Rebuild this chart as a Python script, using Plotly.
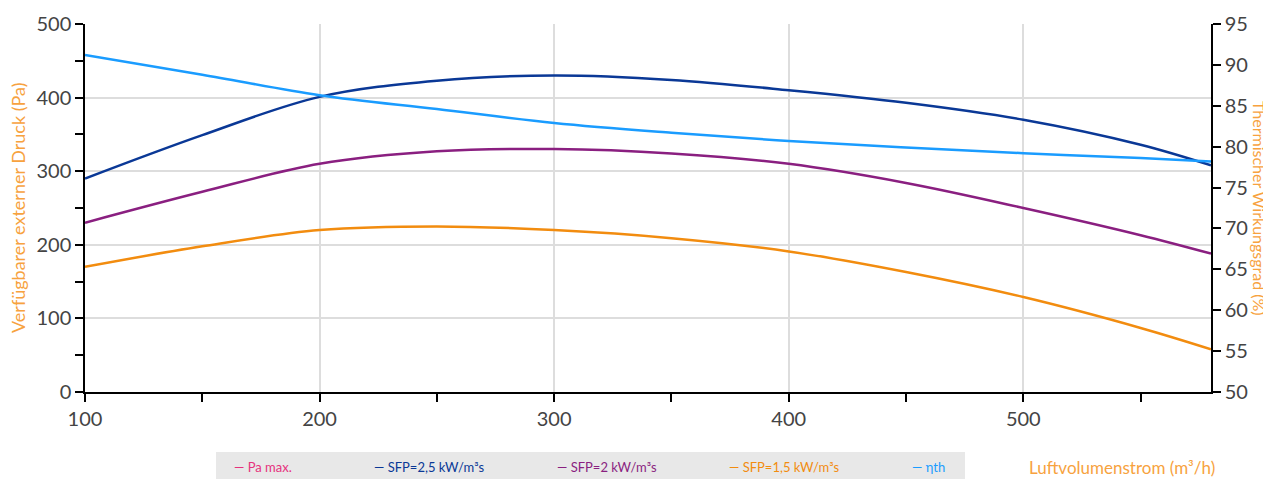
import plotly.graph_objects as go

# Data
airflow = [100, 150, 200, 250, 300, 350, 400, 450, 500, 550, 580]
sfp_25 = [290, 349, 401, 423, 430, 424, 410, 393, 370, 336, 308]
sfp_2 = [230, 272, 310, 327, 330, 324, 310, 284, 250, 213, 188]
sfp_15 = [170, 198, 220, 225, 220, 209, 191, 163, 129, 87, 58]
eta_th = [91.2, 88.8, 86.3, 84.6, 82.9, 81.7, 80.7, 79.9, 79.2, 78.6, 78.2]
pa_max = []

legend_names = ["Pa max.", "SFP=2,5 kW/m³s", "SFP=2 kW/m³s", "SFP=1,5 kW/m³s", "ηth"]
colors = ["#e6317d", "#0a3896", "#8a1f80", "#f28c0f", "#1a9cff"]
legend_x = [232, 372, 555, 727, 910]

FONT = "Lato"
ORANGE_TXT = "#f7a23e"

fig = go.Figure()
fig.add_trace(go.Scatter(x=airflow[:len(pa_max)], y=pa_max, mode="lines",
                         line=dict(color=colors[0], width=2.5, shape="spline"),
                         name=legend_names[0], showlegend=False))
fig.add_trace(go.Scatter(x=airflow, y=sfp_25, mode="lines",
                         line=dict(color=colors[1], width=2.5, shape="spline"),
                         name=legend_names[1], showlegend=False))
fig.add_trace(go.Scatter(x=airflow, y=sfp_2, mode="lines",
                         line=dict(color=colors[2], width=2.5, shape="spline"),
                         name=legend_names[2], showlegend=False))
fig.add_trace(go.Scatter(x=airflow, y=sfp_15, mode="lines",
                         line=dict(color=colors[3], width=2.5, shape="spline"),
                         name=legend_names[3], showlegend=False))
fig.add_trace(go.Scatter(x=airflow, y=eta_th, mode="lines", yaxis="y2",
                         line=dict(color=colors[4], width=2.5, shape="spline"),
                         name=legend_names[4], showlegend=False))

# page coordinates (the page body has an 8px offset)
OFF = 8
PAGE_W, PAGE_H = 1271, 479
W, H = PAGE_W - OFF, PAGE_H - OFF
PL, PR, PT, PB = 85, 1211, 24, 392  # plot area in page pixels
L, T = PL - OFF, PT - OFF
R = W - (PR - OFF)
B = H - (PB - OFF)
pw, ph = PR - PL, PB - PT

def px_x(p):
    return (p - PL) / pw

def px_y(p):
    return (PB - p) / ph

tickfont = dict(family=FONT, size=20, color="#444444")

fig.update_layout(
    width=W, height=H,
    margin=dict(l=L, r=R, t=T, b=B, autoexpand=False),
    paper_bgcolor="white", plot_bgcolor="white",
    font=dict(family=FONT),
    showlegend=False,
    xaxis=dict(range=[100, 580], tick0=100, dtick=100, showgrid=True,
               gridcolor="#dddddd", gridwidth=1.5,
               showline=True, linecolor="black", linewidth=1.5,
               ticks="outside", ticklen=8, tickcolor="black", tickwidth=1.5,
               minor=dict(dtick=50, tick0=100, ticks="outside", ticklen=8,
                          tickcolor="black", tickwidth=1.5, showgrid=False),
               tickfont=tickfont, zeroline=False),
    yaxis=dict(range=[0, 500], dtick=100, showgrid=True,
               gridcolor="#dddddd", gridwidth=1.5,
               showline=True, linecolor="black", linewidth=1.5,
               ticks="outside", ticklen=8, tickcolor="black", tickwidth=1.5,
               minor=dict(dtick=50, ticks="outside", ticklen=8,
                          tickcolor="black", tickwidth=1.5, showgrid=False),
               tickfont=tickfont, zeroline=False),
    yaxis2=dict(range=[50, 95], dtick=5, overlaying="y", side="right",
                showgrid=False, showline=True, linecolor="black", linewidth=1.5,
                ticks="outside", ticklen=8, tickcolor="black", tickwidth=1.5,
                tickfont=tickfont, zeroline=False),
)

annotations = [
    dict(text="Verfügbarer externer Druck (Pa)", textangle=-90,
         xref="paper", yref="paper", x=px_x(18), y=0.5,
         xanchor="center", yanchor="middle", showarrow=False,
         font=dict(family=FONT, size=18, color=ORANGE_TXT)),
    dict(text="Thermischer Wirkungsgrad (%)", textangle=90,
         xref="paper", yref="paper", x=px_x(1260), y=0.5,
         xanchor="center", yanchor="middle", showarrow=False,
         font=dict(family=FONT, size=16, color=ORANGE_TXT)),
    dict(text="Luftvolumenstrom (m³/h)",
         xref="paper", yref="paper", x=px_x(1027), y=px_y(467),
         xanchor="left", yanchor="middle", showarrow=False,
         font=dict(family=FONT, size=17, color=ORANGE_TXT)),
]
for name, col, lx in zip(legend_names, colors, legend_x):
    annotations.append(dict(text="— " + name, xref="paper", yref="paper",
                            x=px_x(lx), y=px_y(467), xanchor="left",
                            yanchor="middle", showarrow=False,
                            font=dict(family=FONT, size=13, color=col)))
fig.update_layout(annotations=annotations)

fig.add_shape(type="rect", xref="paper", yref="paper",
              x0=px_x(216), x1=px_x(965), y0=px_y(452), y1=px_y(482),
              fillcolor="#e8e8e8", line=dict(width=0), layer="below")

fig.write_html("out.html")
